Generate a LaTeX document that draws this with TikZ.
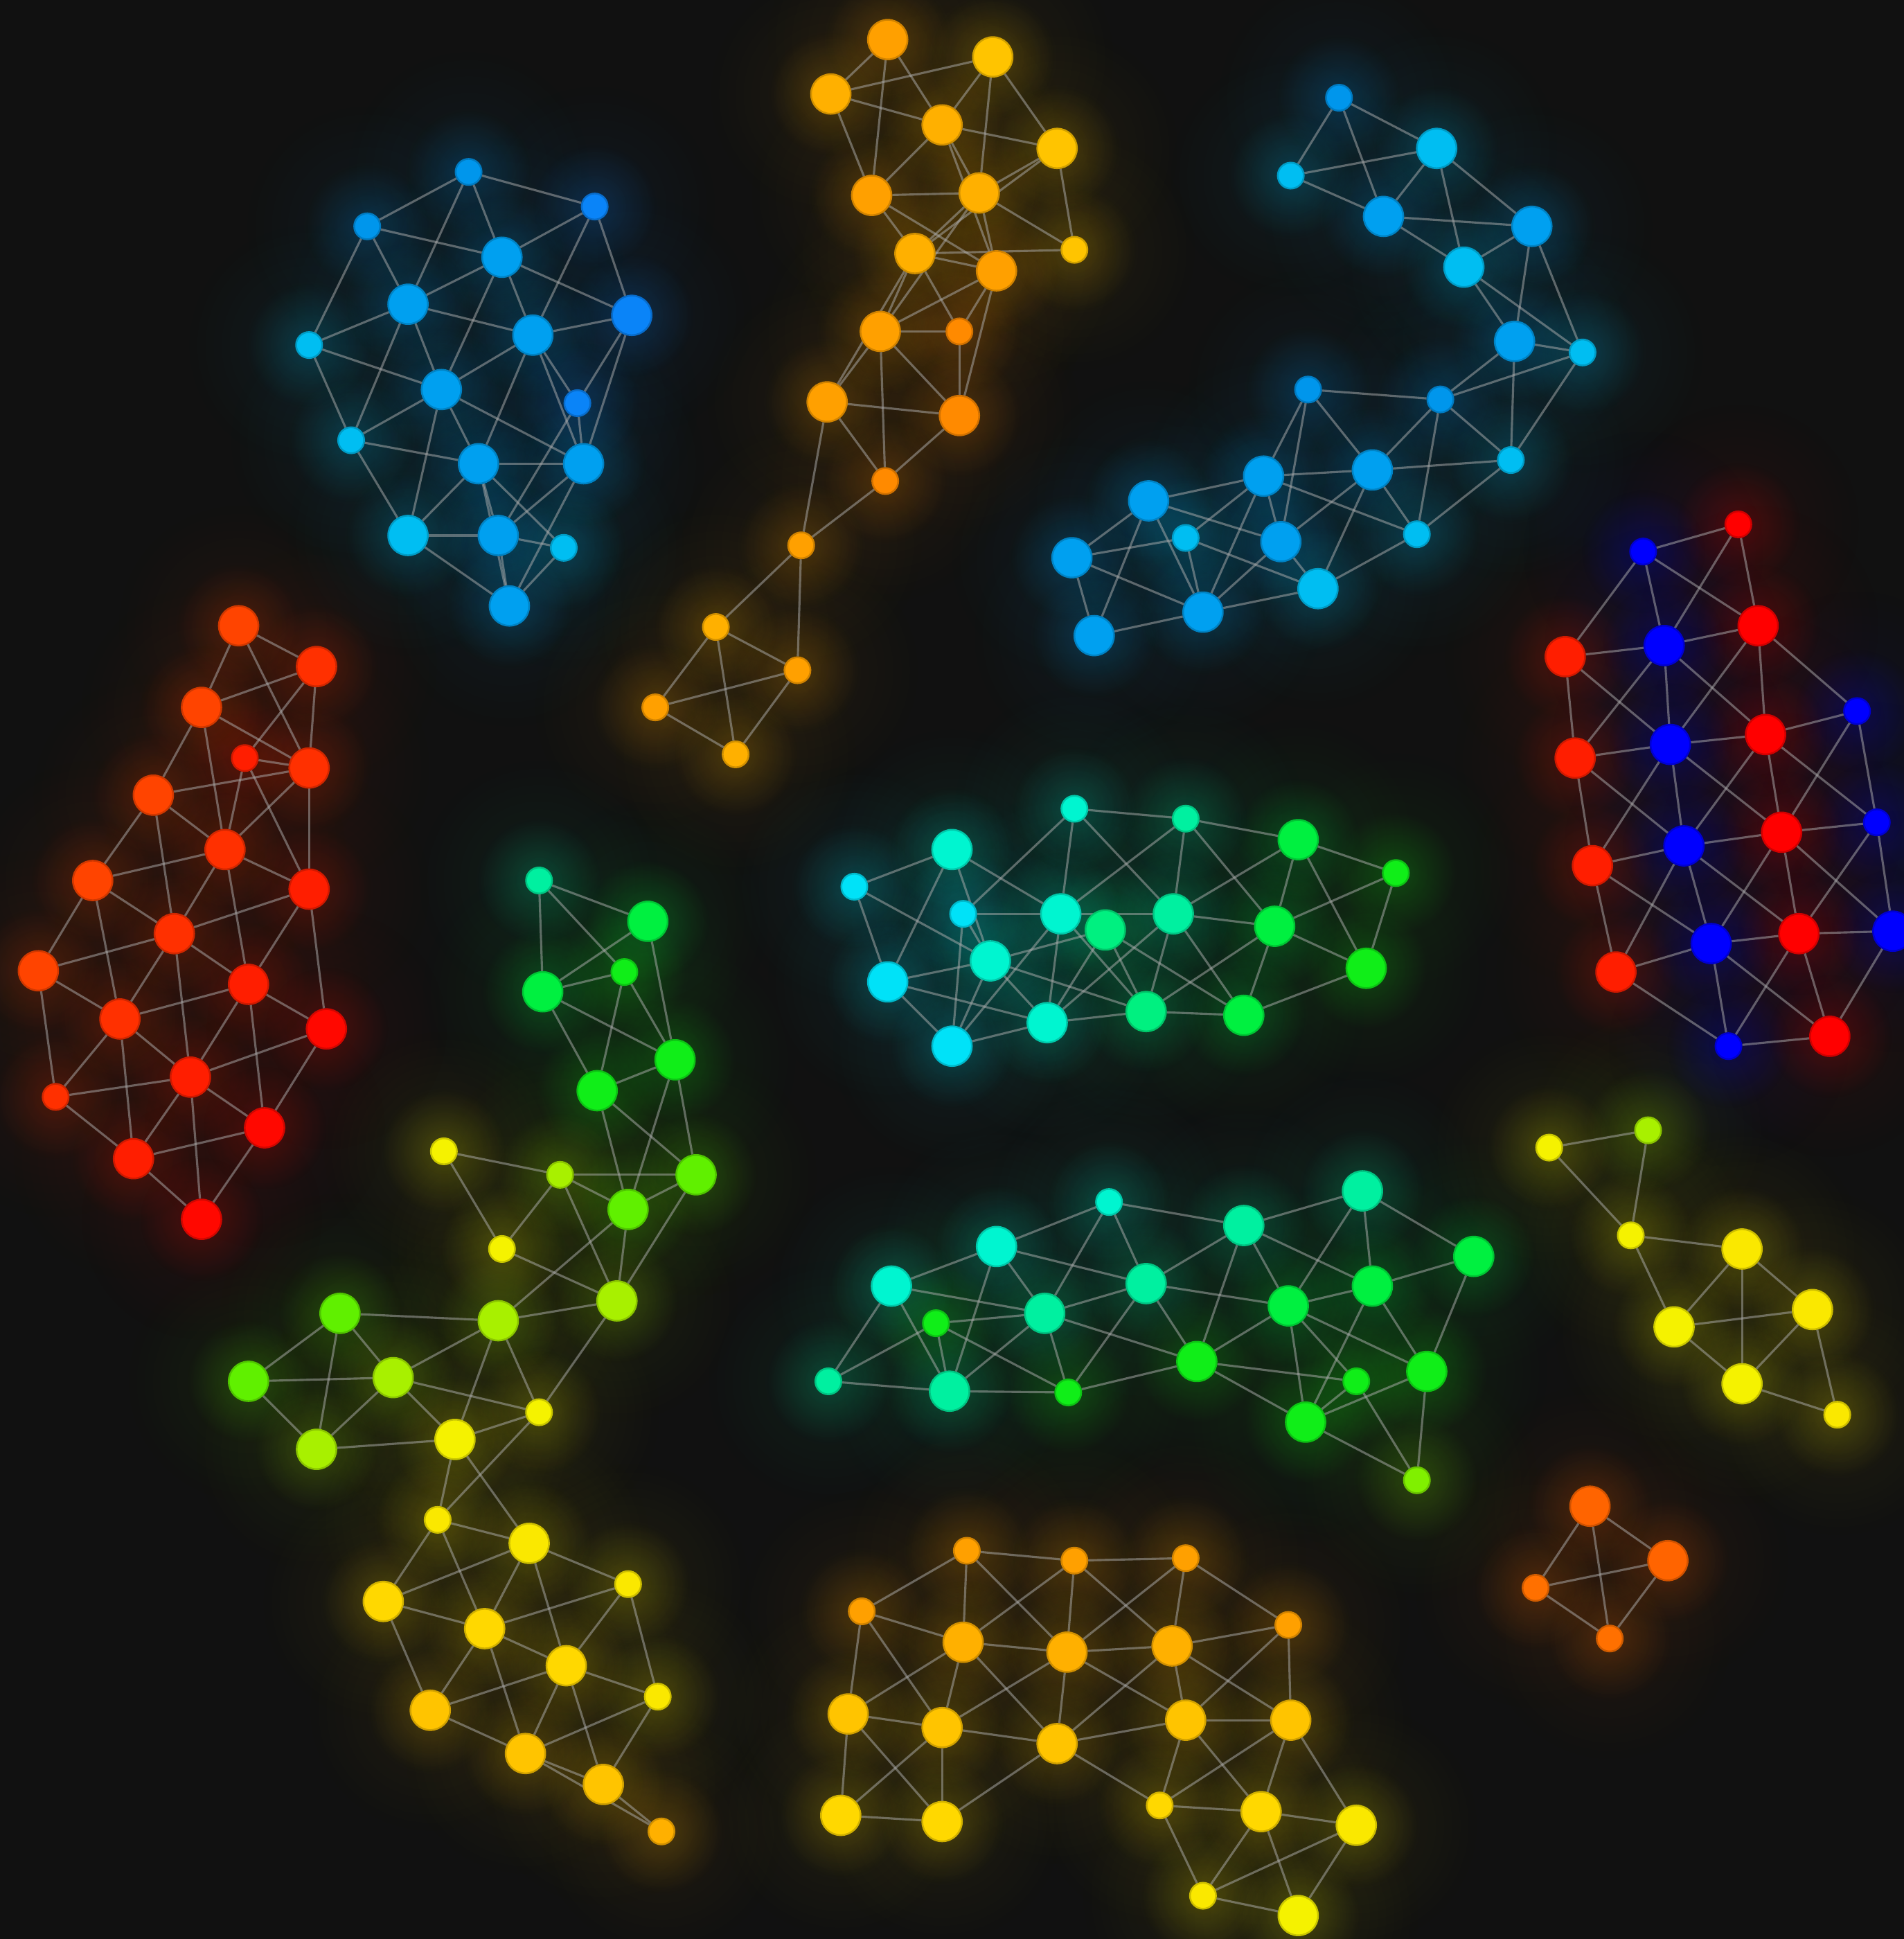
\documentclass[tikz,border=0pt]{standalone}
\usetikzlibrary{fadings}
\pgfdeclarelayer{bglayer}
\pgfdeclarelayer{glowlayer}
\pgfdeclarelayer{edgelayer}
\pgfsetlayers{bglayer,glowlayer,edgelayer,main}
\definecolor{bgc}{RGB}{17,17,17}
\definecolor{linkc}{RGB}{175,175,175}
\definecolor{blu1}{HTML}{00A0F0}
\definecolor{blu2}{HTML}{0A84F8}
\definecolor{blu3}{HTML}{00BEF2}
\definecolor{blu4}{HTML}{0096EC}
\definecolor{or1}{HTML}{FF8A00}
\definecolor{or2}{HTML}{FFA000}
\definecolor{or3}{HTML}{FFB000}
\definecolor{or4}{HTML}{FFC400}
\definecolor{ye1}{HTML}{FFD800}
\definecolor{ye2}{HTML}{FAE800}
\definecolor{ye3}{HTML}{F5F200}
\definecolor{rd1}{HTML}{FF6400}
\definecolor{rd2}{HTML}{FF7000}
\definecolor{re1}{HTML}{FF4400}
\definecolor{re2}{HTML}{FF3000}
\definecolor{re3}{HTML}{FF1E00}
\definecolor{re4}{HTML}{FF0800}
\definecolor{re5}{HTML}{FF0000}
\definecolor{bl0}{HTML}{0000FF}
\definecolor{tc1}{HTML}{00E2F8}
\definecolor{tc2}{HTML}{00F5D0}
\definecolor{tc3}{HTML}{00F0A0}
\definecolor{tc4}{HTML}{00F080}
\definecolor{gr1}{HTML}{00F040}
\definecolor{gr2}{HTML}{10EE18}
\definecolor{lg1}{HTML}{60F000}
\definecolor{lg2}{HTML}{A8F000}
\definecolor{lg3}{HTML}{80F000}
\tikzfading[name=glowf, inner color=transparent!80, outer color=transparent!100]
\tikzfading[name=washf, inner color=transparent!94, outer color=transparent!100]
\tikzset{
  gn/.style={circle, inner sep=0pt, line width=0.4pt, fill=#1, draw=#1!82!black},
  nb/.style={minimum size=0.32cm},
  ns/.style={minimum size=0.21cm},
  link/.style={draw=linkc, line width=0.5pt, draw opacity=0.5},
}
\newcommand\Nd[5]{\node[gn=#5,#4] (#1) at (#2,#3) {};%
  \begin{pgfonlayer}{glowlayer}\fill[#5,path fading=washf] (#2,#3) circle (1.0cm);%
  \fill[#5,path fading=glowf] (#2,#3) circle (0.5cm);\end{pgfonlayer}}
\begin{document}
\begin{tikzpicture}[x=0.01cm,y=-0.01cm]
\begin{pgfonlayer}{bglayer}
\fill[bgc] (0,0) rectangle (1540,1568);
\end{pgfonlayer}
\useasboundingbox (0,0) rectangle (1540,1568);
% ---------- cluster A
\Nd{A1}{379}{139}{ns}{blu4}
\Nd{A2}{481}{167}{ns}{blu2}
\Nd{A3}{297}{183}{ns}{blu4}
\Nd{A4}{406}{208}{nb}{blu1}
\Nd{A5}{330}{246}{nb}{blu1}
\Nd{A6}{511}{255}{nb}{blu2}
\Nd{A7}{250}{279}{ns}{blu3}
\Nd{A8}{431}{271}{nb}{blu1}
\Nd{A9}{357}{315}{nb}{blu1}
\Nd{A10}{467}{326}{ns}{blu2}
\Nd{A11}{284}{356}{ns}{blu3}
\Nd{A12}{387}{375}{nb}{blu1}
\Nd{A13}{472}{375}{nb}{blu1}
\Nd{A14}{330}{433}{nb}{blu3}
\Nd{A15}{403}{433}{nb}{blu1}
\Nd{A16}{456}{443}{ns}{blu3}
\Nd{A17}{412}{490}{nb}{blu1}
% ---------- cluster B
\Nd{B1}{718}{32}{nb}{or2}
\Nd{B2}{803}{46}{nb}{or4}
\Nd{B3}{672}{76}{nb}{or3}
\Nd{B4}{762}{101}{nb}{or3}
\Nd{B5}{855}{120}{nb}{or4}
\Nd{B6}{705}{158}{nb}{or2}
\Nd{B7}{792}{156}{nb}{or3}
\Nd{B8}{740}{205}{nb}{or3}
\Nd{B9}{869}{202}{ns}{or4}
\Nd{B10}{806}{219}{nb}{or2}
\Nd{B11}{712}{268}{nb}{or2}
\Nd{B12}{776}{268}{ns}{or1}
\Nd{B13}{669}{325}{nb}{or2}
\Nd{B14}{776}{336}{nb}{or1}
\Nd{B15}{716}{389}{ns}{or1}
\Nd{B16}{648}{441}{ns}{or2}
\Nd{B17}{579}{507}{ns}{or3}
\Nd{B18}{645}{542}{ns}{or2}
\Nd{B19}{530}{572}{ns}{or2}
\Nd{B20}{595}{610}{ns}{or3}
% ---------- cluster C
\Nd{C1}{1083}{79}{ns}{blu4}
\Nd{C2}{1162}{120}{nb}{blu3}
\Nd{C3}{1044}{142}{ns}{blu3}
\Nd{C4}{1119}{175}{nb}{blu1}
\Nd{C5}{1239}{183}{nb}{blu1}
\Nd{C6}{1184}{216}{nb}{blu3}
\Nd{C7}{1225}{276}{nb}{blu1}
\Nd{C8}{1280}{285}{ns}{blu3}
\Nd{C9}{1058}{315}{ns}{blu4}
\Nd{C10}{1165}{323}{ns}{blu4}
\Nd{C11}{1222}{372}{ns}{blu3}
\Nd{C12}{929}{405}{nb}{blu1}
\Nd{C13}{1022}{385}{nb}{blu1}
\Nd{C14}{1110}{380}{nb}{blu1}
\Nd{C15}{959}{435}{ns}{blu3}
\Nd{C16}{1036}{438}{nb}{blu1}
\Nd{C17}{1146}{432}{ns}{blu3}
\Nd{C18}{867}{451}{nb}{blu1}
\Nd{C19}{1066}{476}{nb}{blu3}
\Nd{C20}{973}{495}{nb}{blu1}
\Nd{C21}{885}{514}{nb}{blu1}
% ---------- cluster D
\Nd{D1}{193}{506}{nb}{re1}
\Nd{D2}{256}{539}{nb}{re2}
\Nd{D3}{163}{572}{nb}{re1}
\Nd{D4}{198}{613}{ns}{re3}
\Nd{D5}{250}{621}{nb}{re2}
\Nd{D6}{124}{643}{nb}{re1}
\Nd{D7}{182}{687}{nb}{re2}
\Nd{D8}{75}{712}{nb}{re1}
\Nd{D9}{250}{719}{nb}{re3}
\Nd{D10}{141}{755}{nb}{re2}
\Nd{D11}{31}{785}{nb}{re1}
\Nd{D12}{201}{796}{nb}{re3}
\Nd{D13}{97}{824}{nb}{re2}
\Nd{D14}{264}{832}{nb}{re4}
\Nd{D15}{154}{871}{nb}{re3}
\Nd{D16}{45}{887}{ns}{re2}
\Nd{D17}{214}{912}{nb}{re4}
\Nd{D18}{108}{937}{nb}{re3}
\Nd{D19}{163}{986}{nb}{re4}
% ---------- cluster E
\Nd{E1}{1406}{424}{ns}{re5}
\Nd{E2}{1329}{446}{ns}{bl0}
\Nd{E3}{1422}{506}{nb}{re5}
\Nd{E4}{1266}{531}{nb}{re3}
\Nd{E5}{1346}{522}{nb}{bl0}
\Nd{E6}{1502}{575}{ns}{bl0}
\Nd{E7}{1428}{594}{nb}{re5}
\Nd{E8}{1274}{613}{nb}{re3}
\Nd{E9}{1351}{602}{nb}{bl0}
\Nd{E10}{1518}{665}{ns}{bl0}
\Nd{E11}{1441}{673}{nb}{re5}
\Nd{E12}{1288}{700}{nb}{re3}
\Nd{E13}{1362}{684}{nb}{bl0}
\Nd{E14}{1531}{753}{nb}{bl0}
\Nd{E15}{1455}{755}{nb}{re5}
\Nd{E16}{1307}{786}{nb}{re3}
\Nd{E17}{1384}{763}{nb}{bl0}
\Nd{E18}{1398}{846}{ns}{bl0}
\Nd{E19}{1480}{838}{nb}{re5}
% ---------- cluster F
\Nd{F1}{869}{654}{ns}{tc2}
\Nd{F2}{959}{662}{ns}{tc3}
\Nd{F3}{770}{687}{nb}{tc2}
\Nd{F4}{1050}{679}{nb}{gr1}
\Nd{F5}{691}{717}{ns}{tc1}
\Nd{F6}{1129}{706}{ns}{gr2}
\Nd{F7}{779}{739}{ns}{tc1}
\Nd{F8}{858}{739}{nb}{tc2}
\Nd{F9}{894}{752}{nb}{tc4}
\Nd{F10}{949}{739}{nb}{tc3}
\Nd{F11}{1031}{749}{nb}{gr1}
\Nd{F12}{801}{777}{nb}{tc2}
\Nd{F13}{718}{794}{nb}{tc1}
\Nd{F14}{1105}{783}{nb}{gr2}
\Nd{F15}{847}{827}{nb}{tc2}
\Nd{F16}{927}{818}{nb}{tc4}
\Nd{F17}{1006}{821}{nb}{gr1}
\Nd{F18}{770}{846}{nb}{tc1}
% ---------- cluster G
\Nd{G1}{436}{712}{ns}{tc3}
\Nd{G2}{524}{745}{nb}{gr1}
\Nd{G3}{505}{786}{ns}{gr2}
\Nd{G4}{439}{802}{nb}{gr1}
\Nd{G5}{546}{857}{nb}{gr2}
\Nd{G6}{483}{882}{nb}{gr2}
\Nd{G7}{359}{931}{ns}{ye3}
\Nd{G8}{453}{950}{ns}{lg2}
\Nd{G9}{563}{950}{nb}{lg1}
\Nd{G10}{508}{978}{nb}{lg1}
\Nd{G11}{406}{1010}{ns}{ye3}
\Nd{G12}{275}{1062}{nb}{lg1}
\Nd{G13}{403}{1068}{nb}{lg2}
\Nd{G14}{499}{1052}{nb}{lg2}
\Nd{G15}{201}{1117}{nb}{lg1}
\Nd{G16}{318}{1114}{nb}{lg2}
\Nd{G17}{436}{1142}{ns}{ye3}
\Nd{G18}{256}{1172}{nb}{lg2}
\Nd{G19}{368}{1164}{nb}{ye3}
% ---------- cluster H
\Nd{H1}{354}{1229}{ns}{ye2}
\Nd{H2}{428}{1248}{nb}{ye2}
\Nd{H3}{310}{1295}{nb}{ye1}
\Nd{H4}{508}{1281}{ns}{ye2}
\Nd{H5}{392}{1317}{nb}{ye1}
\Nd{H6}{458}{1347}{nb}{ye1}
\Nd{H7}{348}{1383}{nb}{or4}
\Nd{H8}{532}{1372}{ns}{ye2}
\Nd{H9}{425}{1418}{nb}{or4}
\Nd{H10}{488}{1443}{nb}{or4}
\Nd{H11}{535}{1481}{ns}{or3}
% ---------- cluster I
\Nd{I1}{897}{972}{ns}{tc2}
\Nd{I2}{1102}{963}{nb}{tc3}
\Nd{I3}{806}{1008}{nb}{tc2}
\Nd{I4}{1006}{991}{nb}{tc3}
\Nd{I5}{1192}{1016}{nb}{gr1}
\Nd{I6}{721}{1040}{nb}{tc2}
\Nd{I7}{927}{1038}{nb}{tc3}
\Nd{I8}{1110}{1040}{nb}{gr1}
\Nd{I9}{757}{1070}{ns}{gr2}
\Nd{I10}{845}{1062}{nb}{tc3}
\Nd{I11}{1042}{1056}{nb}{gr1}
\Nd{I12}{968}{1101}{nb}{gr2}
\Nd{I13}{1154}{1109}{nb}{gr2}
\Nd{I14}{670}{1117}{ns}{tc3}
\Nd{I15}{768}{1125}{nb}{tc3}
\Nd{I16}{864}{1126}{ns}{gr2}
\Nd{I17}{1097}{1117}{ns}{gr2}
\Nd{I18}{1056}{1150}{nb}{gr2}
\Nd{I19}{1146}{1197}{ns}{lg3}
% ---------- cluster J
\Nd{J1}{1253}{928}{ns}{ye3}
\Nd{J2}{1333}{914}{ns}{lg2}
\Nd{J3}{1319}{999}{ns}{ye3}
\Nd{J4}{1409}{1010}{nb}{ye2}
\Nd{J5}{1354}{1073}{nb}{ye3}
\Nd{J6}{1466}{1059}{nb}{ye2}
\Nd{J7}{1409}{1119}{nb}{ye3}
\Nd{J8}{1486}{1144}{ns}{ye2}
% ---------- cluster K
\Nd{K1}{1286}{1218}{nb}{rd1}
\Nd{K2}{1349}{1262}{nb}{rd1}
\Nd{K3}{1242}{1284}{ns}{rd2}
\Nd{K4}{1302}{1325}{ns}{rd2}
% ---------- cluster L
\Nd{L1}{782}{1254}{ns}{or2}
\Nd{L2}{869}{1262}{ns}{or2}
\Nd{L3}{959}{1260}{ns}{or2}
\Nd{L4}{697}{1303}{ns}{or2}
\Nd{L5}{1042}{1314}{ns}{or2}
\Nd{L6}{779}{1328}{nb}{or3}
\Nd{L7}{863}{1336}{nb}{or3}
\Nd{L8}{948}{1331}{nb}{or3}
\Nd{L9}{686}{1386}{nb}{or4}
\Nd{L10}{762}{1397}{nb}{or4}
\Nd{L11}{855}{1410}{nb}{or4}
\Nd{L12}{959}{1391}{nb}{or4}
\Nd{L13}{1044}{1391}{nb}{or4}
\Nd{L14}{680}{1468}{nb}{ye1}
\Nd{L15}{762}{1473}{nb}{ye1}
\Nd{L16}{938}{1460}{ns}{ye1}
\Nd{L17}{1020}{1465}{nb}{ye1}
\Nd{L18}{1097}{1476}{nb}{ye2}
\Nd{L19}{973}{1533}{ns}{ye2}
\Nd{L20}{1050}{1549}{nb}{ye3}
% ---------- connectors
\begin{pgfonlayer}{edgelayer}
\foreach \a/\b in {A1/A2,A1/A3,A1/A4,A1/A5,A3/A4,A3/A5,A3/A7,A2/A4,A2/A8,A2/A6,A4/A5,A4/A6,A4/A8,A4/A9,A5/A7,A5/A8,A5/A9,A5/A11,A6/A8,A6/A10,A6/A13,A7/A9,A7/A11,A8/A9,A8/A10,A8/A12,A8/A13,A9/A11,A9/A12,A9/A13,A9/A14,A10/A13,A10/A15,A11/A12,A11/A14,A12/A13,A12/A14,A12/A15,A12/A17,A12/A16,A13/A15,A13/A17,A14/A15,A14/A17,A15/A16,A15/A17,A16/A17}
  \draw[link] (\a) -- (\b);
\foreach \a/\b in {B1/B3,B1/B4,B1/B6,B3/B2,B3/B4,B3/B6,B2/B4,B2/B5,B2/B7,B4/B6,B4/B5,B4/B7,B4/B10,B5/B7,B5/B8,B5/B9,B6/B7,B6/B8,B6/B10,B7/B9,B7/B10,B7/B11,B7/B8,B8/B9,B8/B10,B8/B12,B8/B11,B8/B13,B10/B11,B10/B12,B10/B14,B11/B12,B11/B13,B11/B14,B11/B15,B12/B14,B13/B14,B13/B15,B13/B16,B14/B15,B15/B16,B16/B17,B16/B18,B17/B18,B17/B19,B17/B20,B18/B19,B18/B20,B19/B20}
  \draw[link] (\a) -- (\b);
\foreach \a/\b in {C1/C2,C1/C3,C1/C4,C3/C2,C3/C4,C2/C4,C2/C6,C2/C5,C4/C5,C4/C6,C5/C6,C5/C7,C5/C8,C6/C7,C6/C8,C7/C8,C7/C10,C7/C11,C8/C10,C8/C11,C9/C10,C9/C13,C9/C16,C9/C14,C10/C14,C10/C17,C10/C11,C11/C14,C11/C17,C12/C13,C12/C18,C12/C21,C12/C16,C12/C20,C13/C14,C13/C15,C13/C16,C13/C20,C13/C17,C16/C19,C14/C16,C14/C17,C14/C19,C15/C18,C15/C19,C15/C20,C16/C20,C17/C19,C18/C21,C18/C20,C19/C20,C20/C21}
  \draw[link] (\a) -- (\b);
\foreach \a/\b in {D1/D2,D1/D3,D1/D5,D2/D3,D2/D4,D2/D5,D3/D5,D3/D6,D3/D7,D4/D5,D4/D7,D4/D9,D6/D5,D6/D7,D6/D8,D6/D10,D7/D5,D7/D9,D7/D10,D7/D12,D8/D7,D8/D10,D8/D11,D8/D13,D9/D5,D9/D10,D9/D12,D9/D14,D10/D11,D10/D12,D10/D13,D10/D15,D11/D13,D11/D16,D12/D13,D12/D14,D12/D15,D12/D17,D13/D15,D13/D16,D13/D18,D14/D15,D14/D17,D15/D16,D15/D17,D15/D18,D15/D19,D16/D18,D17/D18,D17/D19,D18/D19}
  \draw[link] (\a) -- (\b);
\foreach \a/\b in {E1/E2,E1/E5,E1/E3,E2/E4,E2/E5,E2/E3,E3/E5,E3/E9,E3/E7,E3/E6,E4/E5,E4/E8,E4/E9,E5/E8,E5/E9,E5/E7,E6/E7,E6/E11,E6/E10,E7/E9,E7/E13,E7/E11,E7/E10,E8/E9,E8/E12,E8/E13,E9/E12,E9/E13,E9/E11,E10/E11,E10/E14,E10/E15,E11/E13,E11/E17,E11/E15,E11/E14,E12/E13,E12/E16,E12/E17,E13/E16,E13/E17,E13/E15,E14/E15,E14/E19,E15/E17,E15/E18,E15/E19,E16/E17,E16/E18,E17/E18,E17/E19,E18/E19}
  \draw[link] (\a) -- (\b);
\foreach \a/\b in {F1/F2,F1/F8,F1/F7,F1/F10,F2/F4,F2/F8,F2/F10,F2/F11,F3/F5,F3/F8,F3/F12,F3/F13,F4/F6,F4/F10,F4/F11,F4/F14,F5/F13,F5/F12,F6/F11,F6/F14,F7/F8,F7/F12,F7/F18,F8/F10,F8/F15,F8/F18,F8/F16,F9/F12,F9/F15,F9/F16,F9/F17,F10/F11,F10/F16,F10/F17,F10/F15,F11/F14,F11/F17,F11/F16,F12/F13,F12/F15,F12/F18,F12/F16,F13/F15,F13/F18,F14/F17,F15/F16,F15/F18,F16/F17}
  \draw[link] (\a) -- (\b);
\foreach \a/\b in {G1/G2,G1/G3,G1/G4,G2/G4,G2/G5,G3/G4,G3/G6,G3/G5,G4/G5,G4/G6,G5/G6,G5/G9,G5/G10,G6/G9,G6/G10,G7/G8,G7/G11,G8/G9,G8/G10,G8/G11,G8/G14,G9/G10,G9/G14,G10/G14,G10/G13,G11/G14,G12/G13,G12/G15,G12/G16,G12/G18,G13/G14,G13/G16,G13/G17,G13/G19,G14/G17,G15/G16,G15/G18,G16/G17,G16/G18,G16/G19,G17/G19,G18/G19,G19/H1,G19/H2,G17/H1}
  \draw[link] (\a) -- (\b);
\foreach \a/\b in {H1/H2,H1/H3,H1/H5,H2/H3,H2/H4,H2/H5,H2/H6,H3/H5,H3/H7,H4/H5,H4/H6,H4/H8,H5/H6,H5/H7,H5/H9,H6/H7,H6/H8,H6/H9,H6/H10,H7/H9,H8/H9,H8/H10,H9/H10,H9/H11,H10/H11}
  \draw[link] (\a) -- (\b);
\foreach \a/\b in {I1/I3,I1/I4,I1/I10,I1/I7,I2/I4,I2/I5,I2/I8,I2/I11,I3/I6,I3/I7,I3/I10,I3/I15,I4/I7,I4/I8,I4/I11,I4/I12,I5/I8,I5/I13,I6/I10,I6/I14,I6/I15,I7/I10,I7/I11,I7/I12,I7/I16,I8/I11,I8/I13,I8/I18,I9/I10,I9/I14,I9/I15,I9/I16,I10/I12,I10/I15,I10/I16,I11/I12,I11/I13,I11/I17,I11/I18,I12/I16,I12/I17,I12/I18,I14/I15,I15/I16,I13/I18,I13/I19,I17/I19,I17/I18,I18/I19}
  \draw[link] (\a) -- (\b);
\foreach \a/\b in {J1/J2,J1/J3,J2/J3,J3/J4,J3/J5,J4/J5,J4/J6,J4/J7,J5/J6,J5/J7,J6/J7,J6/J8,J7/J8,K1/K2,K1/K3,K1/K4,K2/K3,K2/K4,K3/K4}
  \draw[link] (\a) -- (\b);
\foreach \a/\b in {L1/L2,L1/L4,L1/L6,L1/L7,L2/L3,L2/L6,L2/L7,L2/L8,L3/L5,L3/L7,L3/L8,L4/L6,L4/L9,L4/L10,L5/L8,L5/L12,L5/L13,L6/L7,L6/L9,L6/L10,L6/L11,L7/L8,L7/L10,L7/L11,L7/L12,L8/L11,L8/L12,L8/L13,L9/L10,L9/L14,L9/L15,L10/L14,L10/L15,L10/L11,L11/L12,L11/L15,L11/L16,L12/L13,L12/L16,L12/L17,L13/L16,L13/L17,L13/L18,L14/L15,L16/L17,L16/L19,L17/L18,L17/L19,L17/L20,L18/L19,L18/L20,L19/L20}
  \draw[link] (\a) -- (\b);
\end{pgfonlayer}
\end{tikzpicture}
\end{document}
